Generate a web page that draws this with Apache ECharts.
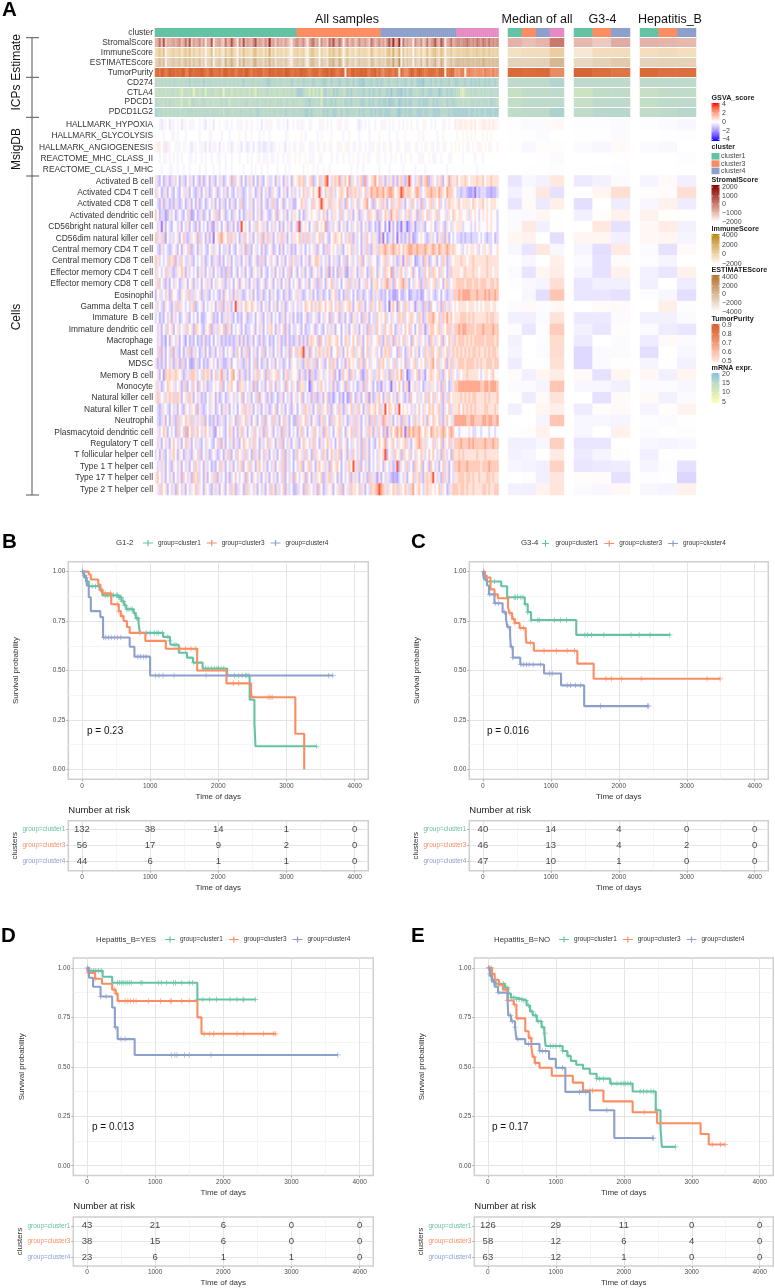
<!DOCTYPE html>
<html><head><meta charset="utf-8">
<script src="https://cdn.jsdelivr.net/npm/echarts@6/dist/echarts.min.js"></script>
<style>html,body{margin:0;padding:0;background:#fff}#c{width:775px;height:1288px}</style></head>
<body><div id="c"></div>
<script>
const FONT='"Liberation Sans",Arial,sans-serif';
// ---- heatmap categories
const TOP_ROWS=['cluster','StromalScore','ImmuneScore','ESTIMATEScore','TumorPurity','CD274','CTLA4','PDCD1','PDCD1LG2'];
const MSIG_ROWS=['HALLMARK_HYPOXIA','HALLMARK_GLYCOLYSIS','HALLMARK_ANGIOGENESIS','REACTOME_MHC_CLASS_II','REACTOME_CLASS_I_MHC'];
const CELL_ROWS=['Activated B cell','Activated CD4 T cell','Activated CD8 T cell','Activated dendritic cell','CD56bright natural killer cell','CD56dim natural killer cell','Central memory CD4 T cell','Central memory CD8 T cell','Effector memory CD4 T cell','Effector memory CD8 T cell','Eosinophil','Gamma delta T cell','Immature  B cell','Immature dendritic cell','Macrophage','Mast cell','MDSC','Memory B cell','Monocyte','Natural killer cell','Natural killer T cell','Neutrophil','Plasmacytoid dendritic cell','Regulatory T cell','T follicular helper cell','Type 1 T helper cell','Type 17 T helper cell','Type 2 T helper cell'];
const ALL_CLUSTER_COLS=[71,42,38,21];
const MEDIAN_CLUSTERS=[0,1,2,3], G34_CLUSTERS=[0,1,2], HEPB_CLUSTERS=[0,1,2];
// ---- coded levels of the all-sample heatmap (each digit is one level below)
const STROMAL_LEVELS=[-1700,-1300,-1100,-950,-800,-600,-300,100,600,1300];
const IMMUNE_LEVELS=[-1500,-900,-600,-300,0,300,700,1100,1800,2600];
const ESTIMATE_LEVELS=[-3200,-2400,-1900,-1500,-1100,-700,-200,500,1300,2200];
const PURITY_LEVELS=[.5,.55,.6,.65,.7,.74,.78,.82,.86,.9];
const MRNA_LEVELS=[8,9.5,10.5,11.5,12.5,13.5,14.5,15.5,17,18.5];
const MSIG_LEVELS=[-1,-.8,-.6,-.45,-.2,0,.2,.4,.65,1];
const GSVA_LEVELS=[-3.2,-2.2,-1.6,-1.2,-.7,-.1,.6,1.1,1.8,3.2];
const ALL_STROMAL='3472814345 3562473815 3462504380 3452173485 3062835436 8354263945 1534253103 5634620467 3506341758 4375036245 1363453175 2463526849 3590735340 6436137256 8438604573 5665667656 5765765756 56';
const ALL_IMMUNE='3463703345 3452463725 3352403370 4352163474 3052734326 7344253835 1434243103 4534510466 3405331647 4374036234 1353443174 2353426738 3480625340 5325137246 7437504463 4554556545 5654654645 45';
const ALL_ESTIMATE='3463603345 3452463625 3362403360 3452173474 3062734326 7344253735 1434253103 4534510366 3405331657 3375036234 1353443165 2353426638 3490625340 5326137245 7327503463 5665656656 5665765656 56';
const ALL_PURITY='7869867988 7878966987 8889876897 7786898788 6788799768 7888677988 7888799877 8789887678 8867889798 7678808689 7889897688 9686577876 8708655798 6898767888 7689807788 4546605655 4555465546 45';
const ALL_MRNA=[
'7667676767 7667676867 7776867776 7676776767 6767867677 6776778877 7677667687 6776877678 7677887686 7787678768 6788977786 7878767867 7867787687 6888977786 8778777867 8877787787 8787787877 87',
'6565646566 5651565560 5645616566 4566065635 6456456365 1656567565 5645656575 6888756263 6371786758 7867568786 6777876868 7687678797 7889786887 6677867887 7798678787 7662156676 7667676676 67',
'7666575766 5652665277 6656765664 6567576366 6656677566 6756675766 5767567567 6656677877 6672786786 8667587786 7678876878 6787887988 7798787886 7787888768 7877668778 7767576677 6776777687 76',
'8777676767 6766767776 7676777677 7767577766 7677676776 7877676767 7677687677 7677788787 7676878778 8768678777 7687877787 8788788877 7898787887 7888788778 8887777878 8888888788 7878878887 88'];
const ALL_MSIG=[
'5543465344 5453465464 5545435453 5565544545 5464566545 5453544645 5445453554 5464455445 5544654545 5646546555 5434545455 4554645454 5545456545 5455645545 4555465455 7677676676 7566776767 66',
'5555455564 5455545555 5545555465 5554555455 5565545565 5545655455 5555546555 5556545555 5456555565 5555455655 5545555455 5565555455 5455565555 5565455555 5455655555 5655656565 6555656565 55',
'6775737455 4645465436 4546435364 4535454634 5463543453 5434334434 6545635454 4564655446 5465465645 5466564654 4546545464 5645465645 5465546455 6456546564 5465645565 6565654656 5646565465 56',
'5545445454 5454555445 4554545545 5445545545 5545554545 5645464544 5455454655 6565565464 5564555545 5455655456 5465456455 5465545545 6554565545 5546455654 4554555465 5555455555 4555455555 55',
'5554555445 5455455455 5545545554 5545545545 5555455545 4554554555 5455545455 5555456554 5455655455 5555555545 5455455555 5545555455 5555455555 4555545555 5555554555 5555555555 5455555555 55'];
const ALL_CELLS=[
'6435346346 4536435463 5436345364 3546345637 4563536463 5364356445 3645364536 5676745673 4574689546 7684675846 5467384567 8574636463 6367437945 4673678346 5467356846 6756676566 6766756676 66',
'4653463543 5435646354 3463546345 6345463543 5464345465 3463546346 5435463546 4545764657 5694576476 4567658476 7646574687 7877867887 5679867765 7874567787 7687658776 5443443223 1434443323 34',
'5436346343 6434534635 3634534546 3536435364 3547345463 5463543647 4356345463 3557646547 6579756746 6574637546 5745678543 7564763574 6674635647 5463745674 6574546766 5675666657 6566756566 65',
'7534423645 3454354723 5346345356 4735634534 6535346463 5463654345 7365463546 6535346565 5645763546 6547456463 5634654765 6374576486 6746546745 6374657465 6745564657 6566556465 6545656565 54',
'5461635435 5463546354 3635453632 6453563463 5349565356 4756463546 4536354635 6394565356 4756583464 5635463546 5463546345 3426525163 5241641346 2446435565 3465436546 5666455545 4565556565 54',
'7464725464 5635743465 6374536361 5678657476 4536475463 5467367463 5467463546 6574747464 6574754356 7657546743 6453647546 6427152463 5163436362 3456543464 5364736354 5443434434 4454543445 34',
'5436454345 6353654734 5364543564 6535446354 3564637435 6453634563 4536354634 3564535456 4365347456 5464356574 6453647436 6476787678 7675767887 7877787678 7687678767 6556456566 5645665645 56',
'7645454767 3647544643 5454634534 6436354635 4463546345 6347435645 6354635476 4463546365 7764546354 6435473564 5467356465 5345674654 6346267465 2346376345 6354763465 6667665667 6666667666 66',
'4654574643 4657636454 5364635463 5463437435 6354635436 5463543546 3546354735 6354635436 5463547263 5374632646 5364653476 5365476583 6467546563 6534475747 6574653476 6665676667 6656667665 66',
'6475436354 6534653563 6453564635 4656436453 5636546354 6345634563 5463546354 5636546356 4374536574 6453564746 4635647536 6754678463 7567846354 6573474656 7465367456 6777767776 7767776677 67',
'3564546375 5436564744 6563464354 5436365463 6464345463 5346345364 5345346345 6464345463 5346345365 7435347453 5346345436 4643435342 2353345234 4342356454 3453543464 7787888877 7877787877 87',
'6454365436 4746545467 3456354565 3647364635 9464576576 5463546354 6354634564 5464576576 4676575675 4674656763 5674635476 4576435167 5275476456 2464374375 5463746465 6566665666 5656566656 65',
'4534354636 4534564354 5353345563 4353464643 5343563445 3564354635 4534635463 5343563445 6435465374 5634635436 6453746354 4756574546 5476745676 5476346778 6574768675 6667776767 6666667677 66',
'5463547563 5645647563 7654365734 6465737635 4563534456 3546354675 3645736354 4563534456 3454354646 3553546356 4635463746 4756475675 3464575745 3574624677 5674657746 7787887777 6777877778 77',
'5463425365 4635425343 5343634353 5463434343 4636363463 5436345343 5463436343 4636363676 5737546765 6753576457 5746357645 5674367463 7645746537 5646546376 4657365764 7677767676 7777767777 67',
'5473635473 6435364736 4534635346 3546354563 4753647354 6354735463 5463546375 4767946375 4676467635 5746357567 4657357465 6453676745 5374534675 4635476477 5674657467 6767676767 7676676767 76',
'6343635463 4637435323 6435343654 5364334635 5464346354 7353463546 3546345365 5464367464 7356435747 6354636756 5476375465 5476754654 7456537456 7456574678 5746573674 6677767777 6767667776 77',
'5635276766 7656346477 6454767635 7468463578 5636436354 6745637465 6745367465 5636436274 3465465467 3524756376 4563247564 4675646374 6758451346 5736425676 5674365746 5465667666 6654566567 55',
'6463457656 4563473547 5375463445 6547354675 5376645463 7354635475 3645637546 5376645136 5467545463 6345637454 5346374563 5342645416 4575367156 4645346466 5463745346 7788888888 8887788788 87',
'6745646767 4763564763 5463435465 3634534654 6457354635 4736543634 5346354635 6457354634 7346357342 4534252375 3463547263 4675364754 6365436375 5464574757 4657364756 6667676767 7666676766 67',
'5434654354 6354365465 7364345465 3453646354 5356476463 5463546345 7354635436 5356476463 5474657436 5476346574 6475364756 7574695765 7495656546 4575465767 5674365746 6675767676 7666677666 76',
'5434635364 3746576474 6464735343 6346435465 3746574635 6354736547 4635746353 3746574635 6436745374 6576453464 7463546374 7464876463 5463746354 7645763657 6574367564 8888887788 7777887887 78',
'5645763545 3745738574 6754675463 2565435763 5367453564 7546374563 5463746354 5367453564 7546376453 5674536574 7463564763 6475372675 7868617868 7786576587 6767875787 5545555654 4554555455 45',
'5463546357 5463574635 4643546543 5473635463 6435765467 4536457465 3647354635 6435765467 4536457645 3574563546 5463746354 3575684567 5465674635 6787646557 4657365746 7778777878 7777787778 77',
'4536435467 5365346436 5473546345 6345364735 4756474537 4635746354 6354736453 4756474537 4654763576 4673563647 5463746354 5465793564 7563765475 4657645757 5463764537 6676766666 6766676666 66',
'5464635436 5463546354 7645364534 3574635463 5467356745 3675463546 3564736453 5467356745 3675646375 6753546759 6473546354 5465365463 4936547453 7657356375 4635746354 7787778777 7776777877 77',
'6754635463 5463754637 6745363564 7364536345 7545637536 5463546354 6354735463 7545637536 4657346746 5363545736 4635463746 4263546432 3245463557 4674367679 5463746354 6677767767 6676667767 66',
'5647563546 3754635465 7465365436 4635635476 3465374654 6354635476 3645736453 3465374654 6375346563 5647356476 6574635476 7898764657 6746576478 5675467665 6574653467 7767767667 6666776766 77'];
// ---- summary panels
const MED_STROMAL=[-900,-1100,-950,0], G34_STROMAL=[-1000,-1250,-800], HEP_STROMAL=[-900,-950,-1000];
const MED_IMMUNE=[-500,-300,-300,400], G34_IMMUNE=[-900,-300,-300], HEP_IMMUNE=[-400,-200,-400];
const MED_ESTIMATE=[-1500,-1500,-1400,0], G34_ESTIMATE=[-1800,-1400,-1000], HEP_ESTIMATE=[-1500,-1400,-1400];
const MED_PURITY=[.86,.85,.86,.75], G34_PURITY=[.88,.85,.82], HEP_PURITY=[.86,.84,.85];
const MED_MRNA=[[15,15,15,16],[13.5,14.5,14.5,15],[14,15,15,15],[14.5,15,15,16.5]];
const G34_MRNA=[[15,15,15],[12.5,14.5,14.5],[13.5,15,15],[14.5,15.5,15.5]];
const HEP_MRNA=[[15,15,15],[13.5,14.5,14.5],[14,15,15],[14.5,15,15.5]];
const MED_MSIG=[[-.05,-.1,-.1,.15],[-.03,-.03,-.1,0],[-.03,-.12,.05,.05],[0,0,-.03,-.1],[0,-.02,-.02,-.05]];
const G34_MSIG=[[-.05,-.05,-.1],[-.02,-.03,-.1],[-.1,-.15,.1],[0,0,-.03],[0,-.02,-.05]];
const HEP_MSIG=[[-.05,-.1,-.15],[0,-.03,-.05],[-.1,-.12,0],[0,0,-.05],[0,0,-.02]];
const MED_CELLS=[[-.5,-.15,-.25,.5],[-.25,.08,.5,-.55],[-.5,.12,-.4,.35],[-.1,-.08,.2,-.03],[-.08,.45,-.3,-.02],[.2,.3,0,-.6],[-.15,-.5,.5,-.15],[-.03,-.15,0,.35],[-.1,-.5,.2,.4],[-.05,-.12,-.2,.7],[0,-.15,-.6,1.2],[-.07,.1,-.07,.15],[-.3,-.3,-.08,.6],[-.06,-.45,-.05,1.1],[-.25,0,-.05,.75],[-.2,0,-.07,.75],[-.35,-.02,-.02,.65],[.08,-.3,.2,.4],[-.1,-.1,-.2,1.2],[.03,-.35,.1,.6],[-.3,0,.22,.35],[0,0,-.2,1.2],[-.03,.05,.3,0],[-.3,-.3,-.15,1],[-.25,-.2,.02,.45],[-.18,-.22,-.3,.95],[0,.05,-.3,.55],[-.25,-.3,.25,.55]];
const G34_CELLS=[[-.4,-.25,-.1],[0,.2,.7],[-.6,0,-.35],[-.3,.06,.3],[0,.5,-.55],[.2,.2,-.3],[-.2,-.6,.45],[-.1,-.55,.08],[-.2,-.55,.3],[-.45,-.3,-.3],[-.45,-.45,-.55],[0,.08,.1],[-.4,-.4,-.1],[-.25,-.45,.05],[-.4,0,-.08],[-.7,-.08,-.1],[-.7,-.08,-.02],[.12,-.55,.2],[-.15,-.15,-.3],[0,-.55,.12],[-.35,.07,.1],[-.15,-.15,-.2],[-.15,0,.3],[-.45,-.45,0],[-.4,-.2,.05],[-.45,-.4,-.35],[.06,.08,-.55],[-.1,-.15,.15]];
const HEP_CELLS=[[-.2,.1,-.3],[.05,.08,.7],[-.15,.3,-.35],[.3,.03,.02],[.15,.4,-.25],[.15,.2,-.2],[-.1,-.55,.1],[-.05,-.2,0],[-.25,-.45,.3],[-.3,0,-.35],[-.05,-.15,-.6],[0,.35,-.05],[-.25,-.25,-.08],[-.1,-.35,-.45],[-.35,.12,-.1],[-.6,0,-.15],[-.2,-.02,-.25],[.15,-.3,.2],[-.07,-.07,-.15],[.12,-.25,-.1],[-.2,.07,.25],[-.05,-.1,-.02],[-.06,.02,.05],[-.15,-.2,-.15],[-.3,-.02,.02],[-.2,-.05,-.55],[-.05,-.03,-.75],[-.15,-.2,.3]];
// ---- survival curves: T = step times, S = survival, C = censor times (1,3,4 = cluster)
const B_T1=[0,30,60,100,270,300,530,580,620,650,760,790,830,850,1190,1290,1300,1420,1540,1630,1770,2130,2460,2530,2545,3440];
const B_S1=[1,.98,.95,.926,.905,.88,.87,.85,.83,.81,.79,.765,.74,.69,.67,.65,.63,.59,.565,.54,.51,.475,.352,.235,.117,.117];
const B_C1=[10,40,80,150,200,240,290,340,380,420,460,510,520,540,550,560,575,590,610,630,660,690,720,740,770,800,820,850,950,1000,1060,1100,1120,1180,1260,1290,1350,1380,1640,1810,1850,1900,1940,1980,2000,2040,2080,2240,2300,2350,2400,2420,2450,3440];
const B_T3=[0,100,130,240,270,300,430,540,570,610,660,700,930,1230,1690,2120,2480,3130,3260];
const B_S3=[1,.985,.96,.935,.91,.89,.835,.80,.775,.75,.72,.69,.65,.61,.50,.435,.365,.18,0];
const B_C3=[270,340,420,520,540,590,1440,1520,1600,1670,2220,2300,2500,2730,2760,2790];
const B_T4=[0,30,70,100,130,270,310,700,770,1000,3680];
const B_S4=[1,.97,.93,.87,.80,.77,.667,.62,.57,.475,.475];
const B_C4=[10,60,320,350,390,430,480,520,570,820,860,900,940,1080,1130,1190,1350,1820,3620,3680];
const C_T1=[0,20,50,270,357,616,660,709,1374,2760];
const C_S1=[1,.98,.95,.926,.87,.835,.795,.755,.68,.68];
const C_C1=[30,170,460,480,510,560,590,630,660,710,810,830,1050,1140,1230,1500,1540,1600,1780,2180,2300,2460,2750];
const C_T3=[0,30,112,170,220,370,390,430,470,540,630,640,750,1390,1630,3490];
const C_S3=[1,.97,.91,.885,.865,.82,.79,.76,.74,.715,.675,.64,.60,.535,.458,.458];
const C_C3=[30,60,180,400,450,470,560,600,700,900,1080,1240,1350,1810,1890,2040,2330,3300,3490];
const C_T4=[0,20,60,90,170,290,340,360,400,410,440,550,900,1150,1490,2440];
const C_S4=[1,.96,.93,.885,.84,.795,.76,.72,.68,.62,.565,.53,.485,.425,.32,.32];
const C_C4=[10,100,180,230,320,380,420,440,560,600,640,680,740,850,980,1020,1240,1290,1360,1440,1730,2420,2440];
const D_T1=[0,30,230,370,1620,2470];
const D_S1=[1,.985,.955,.925,.84,.84];
const D_C1=[30,60,100,130,170,210,450,480,510,530,560,590,620,650,790,810,1050,1090,1170,1270,1300,1390,1500,1550,1620,1700,1800,1900,2100,2200,2290,2300,2470];
const D_T3=[0,20,120,220,370,420,450,1620,1680,2770];
const D_S3=[1,.975,.945,.92,.89,.87,.833,.75,.667,.667];
const D_C3=[20,120,400,430,470,560,600,640,680,720,900,1080,1220,1240,1390,1500,1720,1800,1860,2000,2200,2300,2590,2740,2770];
const D_T4=[0,30,90,200,370,410,450,700,3680];
const D_S4=[1,.95,.905,.855,.80,.70,.64,.56,.56];
const D_C4=[10,200,280,420,500,560,1240,1290,1320,1430,1500,1820,3680];
const E_T1=[0,30,60,100,250,300,340,400,520,570,620,660,720,790,830,850,1100,1170,1220,1300,1400,1500,1600,1800,2130,2470,2540,2560,2760];
const E_S1=[1,.97,.94,.92,.90,.87,.85,.84,.835,.81,.78,.76,.73,.70,.67,.605,.58,.555,.53,.51,.49,.465,.44,.415,.375,.28,.19,.095,.095];
const E_C1=[30,60,130,170,230,280,340,380,420,460,500,530,560,600,650,700,740,780,810,840,920,960,1000,1060,1100,1180,1600,1640,1700,1820,1900,1960,2000,2020,2060,2100,2240,2290,2340,2400,2440,2490,2760];
const E_T3=[0,60,100,160,220,290,380,420,550,600,640,660,690,760,940,1250,1400,1700,2130,2490,3130,3250,3490];
const E_S3=[1,.97,.94,.915,.89,.835,.815,.745,.68,.645,.60,.55,.52,.495,.455,.42,.38,.325,.27,.215,.16,.107,.107];
const E_C3=[20,50,160,290,390,440,630,680,700,1400,1500,1540,2300,3300,3420,3490];
const E_T4=[0,30,60,100,150,290,300,340,400,420,550,760,900,1000,1140,1500,1860,2440];
const E_S4=[1,.96,.93,.905,.875,.83,.76,.73,.70,.64,.615,.58,.54,.495,.373,.28,.14,.14];
const E_C4=[10,40,90,150,330,360,400,440,600,760,800,850,1100,1350,1440,1750,2420,2440];
// ---- number at risk
const RISK_TIMES=[0,1000,2000,3000,4000];
const B_RISK=[[132,38,14,1,0],[56,17,9,2,0],[44,6,1,1,0]];
const C_RISK=[[40,14,4,0,0],[46,13,4,2,0],[47,10,1,0,0]];
const D_RISK=[[43,21,6,0,0],[38,15,6,0,0],[23,6,1,1,0]];
const E_RISK=[[126,29,11,0,0],[58,12,6,4,0],[63,12,1,0,0]];
const GROUP_NAMES=['group=cluster1','group=cluster3','group=cluster4'];
const X_TICKS=[0,1000,2000,3000,4000], X_MINOR=[500,1500,2500,3500];
const Y_TICKS=[0,.25,.5,.75,1], Y_MINOR=[.125,.375,.625,.875];

// ================= layout & build
const CLUSTER_COLORS=['#66c2a5','#fc8d62','#8da0cb','#e78ac3'];
const CM={
 gsva:{min:-4,max:4,color:['#0000ff','#6a4cff','#9e8cff','#d2c8ff','#ffffff','#ffd0c0','#ff9e81','#ff6a48','#ff0000']},
 stromal:{min:-2000,max:2000,color:['#ffffff','#e6b8ae','#c77a6d','#a63a32','#8b0000']},
 immune:{min:-2000,max:4000,color:['#ffffff','#f4e0c2','#e3c28a','#cfa350','#b8860b']},
 estimate:{min:-4000,max:4000,color:['#ffffff','#eadbc8','#d8b892','#c59560','#b5702a']},
 purity:{min:.5,max:.9,color:['#ffe8e0','#f9c4ad','#ef9c78','#e2794b','#d5602f']},
 mrna:{min:5,max:20,color:['#ffffb2','#dbecb8','#bddacb','#8abfdd']}
};
const grids=[],xAxes=[],yAxes=[],series=[],g=[],legends=[];
const cmSeries={gsva:[],stromal:[],immune:[],estimate:[],purity:[],mrna:[],cluster:[]};
const dec=(s,lv)=>s.replace(/\s/g,'').split('').map(d=>lv[+d]);
const allClusters=[];ALL_CLUSTER_COLS.forEach((n,k)=>{for(let i=0;i<n;i++)allClusters.push(k)});
function hmGrid(left,top,w,h,rows,cols,labels,split){
 grids.push({left,top,width:w,height:h});const gi=grids.length-1;
 xAxes.push({type:'category',gridIndex:gi,data:cols.map(String),show:false});
 yAxes.push({type:'category',gridIndex:gi,data:rows,inverse:true,z:split?10:0,axisLine:{show:false},axisTick:{show:false},
  axisLabel:{show:labels,interval:0,fontSize:8.4,fontFamily:FONT,color:'#333',margin:2},
  splitLine:{show:split,lineStyle:{color:'#ffffff',width:1}}});
 return gi;
}
function hmSeries(gi,cm,data){
 series.push({type:'heatmap',xAxisIndex:gi,yAxisIndex:gi,data,progressive:0,silent:true,emphasis:{disabled:true}});
 cmSeries[cm].push(series.length-1);
}
function panel(left,w,clusters,st,im,es,pu,mr,ms,ce,labels){
 const cols=clusters.map((_,i)=>i);
 const top=hmGrid(left,27.7,w,89.3,TOP_ROWS,cols,labels,true);
 hmSeries(top,'cluster',clusters.map((c,i)=>[i,0,c]));
 hmSeries(top,'stromal',st.map((v,i)=>[i,1,v]));
 hmSeries(top,'immune',im.map((v,i)=>[i,2,v]));
 hmSeries(top,'estimate',es.map((v,i)=>[i,3,v]));
 hmSeries(top,'purity',pu.map((v,i)=>[i,4,v]));
 const md=[];mr.forEach((r,y)=>r.forEach((v,i)=>md.push([i,5+y,v])));hmSeries(top,'mrna',md);
 const mid=hmGrid(left,119.3,w,56,MSIG_ROWS,cols,labels,false);
 const d2=[];ms.forEach((r,y)=>r.forEach((v,i)=>d2.push([i,y,v])));hmSeries(mid,'gsva',d2);
 const bot=hmGrid(left,175.5,w,319.5,CELL_ROWS,cols,labels,false);
 const d3=[];ce.forEach((r,y)=>r.forEach((v,i)=>d3.push([i,y,v])));hmSeries(bot,'gsva',d3);
}
panel(155,343.5,allClusters,dec(ALL_STROMAL,STROMAL_LEVELS),dec(ALL_IMMUNE,IMMUNE_LEVELS),dec(ALL_ESTIMATE,ESTIMATE_LEVELS),dec(ALL_PURITY,PURITY_LEVELS),
 ALL_MRNA.map(s=>dec(s,MRNA_LEVELS)),ALL_MSIG.map(s=>dec(s,MSIG_LEVELS)),ALL_CELLS.map(s=>dec(s,GSVA_LEVELS)),true);
panel(508,56,MEDIAN_CLUSTERS,MED_STROMAL,MED_IMMUNE,MED_ESTIMATE,MED_PURITY,MED_MRNA,MED_MSIG,MED_CELLS,false);
panel(574,56,G34_CLUSTERS,G34_STROMAL,G34_IMMUNE,G34_ESTIMATE,G34_PURITY,G34_MRNA,G34_MSIG,G34_CELLS,false);
panel(640,56,HEPB_CLUSTERS,HEP_STROMAL,HEP_IMMUNE,HEP_ESTIMATE,HEP_PURITY,HEP_MRNA,HEP_MSIG,HEP_CELLS,false);

const TICK_COL='#4d4d4d',GRID_MAJ='#e4e4e4',GRID_MIN='#f1f1f1',BORDER='#cfcfcf';
const noLine={show:false,onZero:false};
function xPair(gi,name){
 const base={type:'value',gridIndex:gi,min:-200,max:4200,position:'bottom'};
 xAxes.push({...base,axisLine:noLine,axisTick:{show:false,customValues:X_MINOR},axisLabel:{show:false,customValues:X_MINOR},splitLine:{show:true,lineStyle:{color:GRID_MIN,width:.7}}});
 xAxes.push({...base,axisLine:noLine,axisTick:{show:true,length:2,lineStyle:{color:'#aaa'},customValues:X_TICKS},
  axisLabel:{show:true,customValues:X_TICKS,fontSize:6.5,fontFamily:FONT,color:TICK_COL,margin:3,formatter:v=>String(v)},
  splitLine:{show:true,lineStyle:{color:GRID_MAJ,width:1}},name:name,nameLocation:'middle',nameGap:13,nameTextStyle:{fontSize:8,fontFamily:FONT,color:'#333'}});
 return xAxes.length-1;
}
const stepAt=(T,S,t)=>{let s=S[0];for(let i=0;i<T.length;i++){if(T[i]<=t)s=S[i];}return s;};
const PLUS='path://M4.3,0H5.7V4.3H10V5.7H5.7V10H4.3V5.7H0V4.3H4.3Z';
const LEG_LINE='path://M0,4.4H4.4V2H5.6V4.4H10V5.6H5.6V8H4.4V5.6H0Z';
function km(left,top,w,curves,p,pxy,yGap,legLeft,legTop,risk,plusFirst){
 const gi=grids.length;
 grids.push({left,top,width:w,height:217.6,show:true,borderColor:BORDER,borderWidth:1.5,backgroundColor:'#fff'});
 const xi=xPair(gi,'Time of days');
 const base={type:'value',gridIndex:gi,min:-.05,max:1.05,position:'left'};
 yAxes.push({...base,axisLine:noLine,axisTick:{show:false,customValues:Y_MINOR},axisLabel:{show:false,customValues:Y_MINOR},splitLine:{show:true,lineStyle:{color:GRID_MIN,width:.7}}});
 yAxes.push({...base,axisLine:noLine,axisTick:{show:true,length:2,lineStyle:{color:'#aaa'},customValues:Y_TICKS},
  axisLabel:{show:true,customValues:Y_TICKS,fontSize:6.5,fontFamily:FONT,color:TICK_COL,margin:3,formatter:v=>v.toFixed(2)},
  splitLine:{show:true,lineStyle:{color:GRID_MAJ,width:1}},name:'Survival probability',nameLocation:'middle',nameGap:yGap,nameTextStyle:{fontSize:8,fontFamily:FONT,color:'#333'}});
 const yi=yAxes.length-1;
 curves.forEach((c,k)=>{
  series.push({type:'line',name:GROUP_NAMES[k],xAxisIndex:xi,yAxisIndex:yi,step:'end',symbol:'none',showSymbol:false,silent:true,
   data:c[0].map((t,i)=>[t,c[1][i]]),color:CLUSTER_COLORS[k],itemStyle:{color:CLUSTER_COLORS[k]},lineStyle:{color:CLUSTER_COLORS[k],width:2.1},z:3+k});
  series.push({type:'scatter',xAxisIndex:xi,yAxisIndex:yi,symbol:PLUS,symbolSize:5.5,silent:true,
   data:c[2].map(t=>[t,stepAt(c[0],c[1],t)]),itemStyle:{color:CLUSTER_COLORS[k],opacity:.85},z:3+k});
 });
 legends.push({left:legLeft,top:legTop,orient:'horizontal',selectedMode:false,itemWidth:10,itemHeight:7,itemGap:6,padding:0,
  textStyle:{fontSize:6.45,fontFamily:FONT,color:'#333'},
  data:GROUP_NAMES.map((n,k)=>({name:n,icon:(plusFirst&&k==0)?PLUS:LEG_LINE,itemStyle:{color:CLUSTER_COLORS[k]}}))});
 g.push({type:'text',x:pxy[0],y:pxy[1],style:{text:p,font:'10px '+FONT,fill:'#111',verticalAlign:'middle'}});
 // risk table
 const rg=grids.length,rTop=top+259;
 grids.push({left,top:rTop,width:w,height:50,show:true,borderColor:BORDER,borderWidth:1.5,backgroundColor:'#fff'});
 const rx=xPair(rg,'Time of days');
 const rb={type:'value',gridIndex:rg,min:.4375,max:3.5625,inverse:true,position:'left'};
 yAxes.push({...rb,axisLine:noLine,axisTick:{show:true,length:2,lineStyle:{color:'#aaa'},customValues:[1,2,3]},
  axisLabel:{show:true,customValues:[1,2,3],margin:3,fontFamily:FONT,formatter:v=>'{c'+v+'|'+GROUP_NAMES[v-1]+'}',
   rich:{c1:{color:CLUSTER_COLORS[0],fontSize:6.45,fontFamily:FONT},c2:{color:CLUSTER_COLORS[1],fontSize:6.45,fontFamily:FONT},c3:{color:CLUSTER_COLORS[2],fontSize:6.45,fontFamily:FONT}}},
  splitLine:{show:true,lineStyle:{color:GRID_MAJ,width:1}},name:'clusters',nameLocation:'middle',nameGap:yGap,nameTextStyle:{fontSize:8,fontFamily:FONT,color:'#333'}});
 const ry=yAxes.length-1;
 const rd=[];risk.forEach((r,y)=>r.forEach((v,i)=>rd.push([RISK_TIMES[i],y+1,v])));
 series.push({type:'scatter',xAxisIndex:rx,yAxisIndex:ry,symbolSize:1,silent:true,data:rd,itemStyle:{color:'transparent'},
  label:{show:true,position:'inside',formatter:q=>q.value[2],fontSize:9.5,fontFamily:FONT,color:'#111'},labelLayout:{hideOverlap:false}});
 g.push({type:'text',x:left,y:rTop-10.5,style:{text:'Number at risk',font:'9.5px '+FONT,fill:'#222',verticalAlign:'middle'}});
}
km(68.3,561.7,300,[[B_T1,B_S1,B_C1],[B_T3,B_S3,B_C3],[B_T4,B_S4,B_C4]],'p = 0.23',[87,731],49,143,540,B_RISK);
km(469.3,561.7,299,[[C_T1,C_S1,C_C1],[C_T3,C_S3,C_C3],[C_T4,C_S4,C_C4]],'p = 0.016',[487,731],49,542,540,C_RISK,true);
km(73.3,958,300,[[D_T1,D_S1,D_C1],[D_T3,D_S3,D_C3],[D_T4,D_S4,D_C4]],'p = 0.013',[92,1127],48,165,936.5,D_RISK);
km(474.3,958,299,[[E_T1,E_S1,E_C1],[E_T3,E_S3,E_C3],[E_T4,E_S4,E_C4]],'p = 0.17',[492,1127],49,559,936.5,E_RISK);

// ---- free text
function txt(x,y,t,size,extra){g.push({type:'text',x,y,style:Object.assign({text:t,font:size+'px '+FONT,fill:'#222',verticalAlign:'middle'},extra||{})});}
const bold=(s)=>'bold '+s+'px '+FONT;
[['A',2,10],['B',2,542],['C',411,542],['D',1,936],['E',411,936]].forEach(a=>g.push({type:'text',x:a[1],y:a[2],style:{text:a[0],font:bold(20.5),fill:'#000',verticalAlign:'middle'}}));
[['All samples',347],['Median of all',537],['G3-4',602.5],['Hepatitis_B',670]].forEach(a=>txt(a[1],19.5,a[0],12.5,{textAlign:'center',fill:'#111'}));
[['Estimate',57.5],['ICPs',97.5],['MsigDB',149],['Cells',317]].forEach(a=>g.push({type:'text',x:17,y:a[1],rotation:Math.PI/2,style:{text:a[0],font:'12px '+FONT,fill:'#111',textAlign:'center',verticalAlign:'middle'}}));
[[37.7],[77.3],[117.3],[176],[495]].forEach(a=>g.push({type:'line',shape:{x1:26,y1:a[0],x2:39,y2:a[0]},style:{stroke:'#555',lineWidth:1}}));
g.push({type:'line',shape:{x1:32,y1:37.7,x2:32,y2:495},style:{stroke:'#555',lineWidth:1}});
g.push({type:'text',x:116,y:543,style:{text:'G1-2',font:'7.8px '+FONT,fill:'#333',verticalAlign:'middle'}});
g.push({type:'text',x:521,y:543,style:{text:'G3-4',font:'7.8px '+FONT,fill:'#333',verticalAlign:'middle'}});
g.push({type:'text',x:96,y:940,style:{text:'Hepatitis_B=YES',font:'7.8px '+FONT,fill:'#333',verticalAlign:'middle'}});
g.push({type:'text',x:494,y:940,style:{text:'Hepatitis_B=NO',font:'7.8px '+FONT,fill:'#333',verticalAlign:'middle'}});
// ---- colour legends
const LEGENDS=[
 ['GSVA_score',98,'gsva',103,141,['4','2','0','−2','−4'],[104,113,122,131,139.5]],
 ['StromalScore',180.5,'stromal',185,222,['2000','1000','0','−1000','−2000'],[187,196,204,213,222]],
 ['ImmuneScore',229,'immune',234,265,['4000','2000','0','−2000'],[235.5,245,254.5,264]],
 ['ESTIMATEScore',270,'estimate',275,312,['4000','2000','0','−2000','−4000'],[277,286,294.5,303,312]],
 ['TumorPurity',319.5,'purity',324,362,['0.9','0.8','0.7','0.6','0.5'],[325,334,343,352,361]],
 ['mRNA expr.',368,'mrna',373,403,['20','15','10','5'],[374,383,392.5,402]]];
LEGENDS.forEach(L=>{
 txt(711.5,L[1],L[0],7.2,{font:bold(7.2),fill:'#222'});
 const cols=CM[L[2]].color,n=cols.length;
 g.push({type:'rect',shape:{x:711.5,y:L[3],width:8,height:L[4]-L[3]},style:{fill:{type:'linear',x:0,y:1,x2:0,y2:0,colorStops:cols.map((c,i)=>({offset:i/(n-1),color:c}))}}});
 L[5].forEach((t,i)=>{
  txt(722,L[6][i],t,7,{fill:'#444'});
  g.push({type:'line',shape:{x1:711.5,y1:L[6][i],x2:713,y2:L[6][i]},style:{stroke:'#fff',lineWidth:.6}});
  g.push({type:'line',shape:{x1:718,y1:L[6][i],x2:719.5,y2:L[6][i]},style:{stroke:'#fff',lineWidth:.6}});
 });
});
txt(711.5,147,'cluster',7.2,{font:bold(7.2)});
[['cluster1',0,153],['cluster3',1,160.3],['cluster4',2,167.6]].forEach(a=>{
 g.push({type:'rect',shape:{x:711.5,y:a[2],width:8,height:6.6},style:{fill:CLUSTER_COLORS[a[1]]}});
 txt(721,a[2]+3.3,a[0],7,{fill:'#444'});
});
// ---- colour scales
const vms=[];
Object.keys(CM).forEach(k=>vms.push({show:false,type:'continuous',min:CM[k].min,max:CM[k].max,dimension:2,seriesIndex:cmSeries[k],inRange:{color:CM[k].color}}));
vms.push({show:false,type:'piecewise',dimension:2,seriesIndex:cmSeries.cluster,pieces:CLUSTER_COLORS.map((c,i)=>({value:i,color:c}))});
const chart=echarts.init(document.getElementById('c'),null,{renderer:'canvas',width:775,height:1288,devicePixelRatio:1});
chart.setOption({animation:false,backgroundColor:'#fff',textStyle:{fontFamily:FONT},grid:grids,xAxis:xAxes,yAxis:yAxes,series,visualMap:vms,legend:legends,graphic:{elements:g}});
</script></body></html>
